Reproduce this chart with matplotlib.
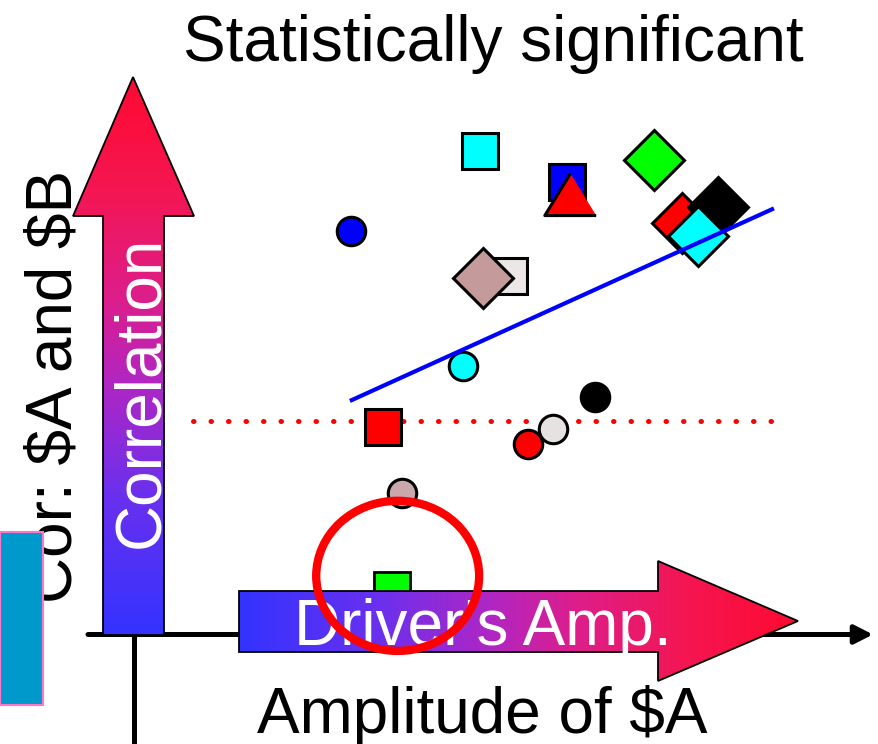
import numpy as np
import matplotlib.pyplot as plt
from matplotlib.colors import LinearSegmentedColormap
from matplotlib.patches import Polygon, Rectangle, Ellipse

plt.rcParams['font.family'] = ['Liberation Sans', 'DejaVu Sans']

# amplitude of $A (x) vs correlation of $A and $B (y)
amp = [0.522, 0.653, 0.657, 0.783, 0.826, 0.880, 0.850, 0.328, 0.565,
       0.526, 0.496, 0.695, 0.376, 0.632, 0.594, 0.405]
corr = [0.867, 0.811, 0.790, 0.851, 0.738, 0.767, 0.715, 0.724, 0.643,
        0.640, 0.482, 0.427, 0.373, 0.369, 0.342, 0.254]
shapes = ['s', 's', 'tri', 'D', 'D', 'D', 'D', 'o', 's',
          'D', 'o', 'o', 's', 'o', 'o', 'o']
colors = ['#00ffff', '#0000ff', '#ff0000', '#00ff00', '#ff0000', '#000000',
          '#00ffff', '#0000ff', '#ece6e6', '#c49a9a', '#00ffff', '#000000',
          '#ff0000', '#e6e2e2', '#ff0000', '#c8a8ac']

# point hidden behind the "Driver's Amp." arrow (circled)
hidden_amp = [0.390]
hidden_corr = [0.080]
hidden_color = '#00ff00'

fit_amp = [0.329, 0.961]
fit_corr = [0.421, 0.763]
threshold = 0.384
threshold_span = [0.090, 0.965]
highlight = (0.398, 0.106)

# the artwork is laid out in pixels; P() converts to data units
W, H = 879, 744
X0, Y0, SX, SY = 133, 635, 665, 558


def P(x, y):
    return (x - X0) / SX, (Y0 - y) / SY


fig = plt.figure(figsize=(W / 100, H / 100), dpi=100)
ax = fig.add_axes([0, 0, 1, 1])
ax.axis('off')

cmap = LinearSegmentedColormap.from_list(
    'amp', [(0, '#3333ff'), (0.25, '#6a30ee'), (0.45, '#b026c4'),
            (0.6, '#dc1e8c'), (0.8, '#f41652'), (1, '#ff0a30')])


def grad_arrow(pts, horizontal):
    verts = [P(*p) for p in pts]
    poly = Polygon(verts, closed=True, fc='none', ec='black', lw=1.3, zorder=4)
    ax.add_patch(poly)
    xs = [v[0] for v in verts]
    ys = [v[1] for v in verts]
    g = np.linspace(0, 1, 256)
    arr = g[None, :] if horizontal else g[::-1, None]
    im = ax.imshow(arr, cmap=cmap, extent=(min(xs), max(xs), min(ys), max(ys)),
                   aspect='auto', zorder=3, interpolation='bilinear')
    im.set_clip_path(poly)


# axes lines
ax.annotate('', xy=P(873, 634.5), xytext=P(88, 634.5),
            arrowprops=dict(arrowstyle='-|>,head_length=0.55,head_width=0.28',
                            lw=3.6, color='black', shrinkA=0, shrinkB=0,
                            mutation_scale=20), zorder=1)
ax.plot(*zip(P(133.5, 216), P(133.5, 744)), color='black', lw=3.6, zorder=1,
        solid_capstyle='butt')

# hidden point under the arrow
ax.plot(hidden_amp, hidden_corr, 's', ms=26, mfc=hidden_color, mec='black',
        mew=2, zorder=2)

grad_arrow([(103, 635), (164, 635), (164, 216), (194, 216), (133, 77),
            (73, 216), (103, 216)], horizontal=False)
grad_arrow([(239, 591), (658, 591), (658, 561), (798, 621), (658, 681),
            (658, 652), (239, 652)], horizontal=True)

ax.text(*P(158, 392), 'Correlation', color='white', fontsize=46, rotation=90,
        rotation_mode='anchor', ha='center', va='baseline', zorder=5)
ax.text(*P(482.5, 645), "Driver's Amp.", color='white', fontsize=46,
        ha='center', va='baseline', zorder=5)

# labels
ax.text(*P(493, 61), 'Statistically significant', fontsize=46,
        ha='center', va='baseline')
ax.text(*P(482.5, 733), r'Amplitude of \$A', fontsize=46,
        ha='center', va='baseline')
ax.text(*P(72, 386), r'Cor: \$A and \$B', fontsize=46, rotation=90,
        rotation_mode='anchor', ha='center', va='baseline', zorder=2)
x0, y0 = P(0, 705)
x1, y1 = P(43, 532)
ax.add_patch(Rectangle((x0, y0), x1 - x0, y1 - y0, fc='#0099cc',
                       ec='#ff77cc', lw=1.5, zorder=3))

# threshold and fit
ax.plot(threshold_span, [threshold, threshold], color='red', lw=3.6,
        linestyle=(0, (0.1, 3.4)), dash_capstyle='round', zorder=5)

tri = [(0, 0.82), (-1, -0.82), (1, -0.82)]
sizes = {'s': 26, 'D': 31, 'o': 20.5, 'tri': 37}
for i, (a, c, m, col) in enumerate(zip(amp, corr, shapes, colors)):
    mk = tri if m == 'tri' else m
    ax.plot(a, c, marker=mk, ms=sizes[m], mfc=col, mec='black', mew=2.2,
            linestyle='none', zorder=6 + i * 0.01)

ax.plot(fit_amp, fit_corr, color='blue', lw=3, zorder=7)

ax.add_patch(Ellipse(highlight, width=0.245, height=0.269, fill=False,
                     ec='red', lw=6, zorder=8))

ax.set_xlim(P(0, 0)[0], P(W, 0)[0])
ax.set_ylim(P(0, H)[1], P(0, 0)[1])

fig.savefig('out.png', dpi=100)
